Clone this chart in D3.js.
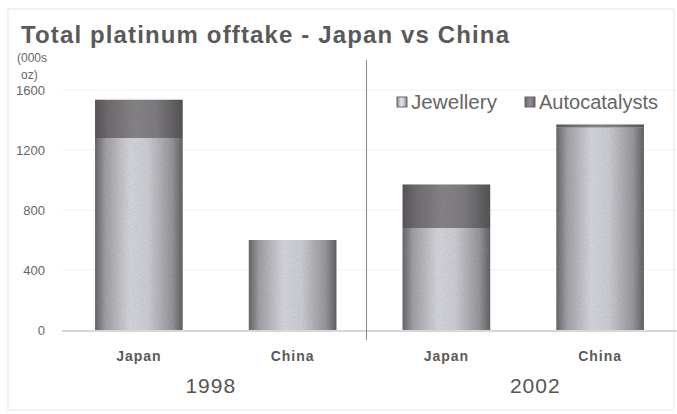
<!DOCTYPE html>
<html>
<head>
<meta charset="utf-8">
<script src="https://cdn.jsdelivr.net/npm/d3@7"></script>
<style>
  body { margin: 0; background: #fff; }
  text { font-family: "Liberation Sans", Arial, sans-serif; }
</style>
</head>
<body>
<script>
// data (000s oz)
var years = ["1998", "2002"];
var countries = ["Japan", "China"];
var jewellery = [[1280, 600], [680, 1350]];      // per year: Japan, China
var autocatalysts = [[255, 0], [290, 20]];
var series = ["Jewellery", "Autocatalysts"];
var yTicks = [0, 400, 800, 1200, 1600];

var w = 677, h = 414;
var svg = d3.select("body").append("svg")
    .attr("width", w)
    .attr("height", h);

// frame
svg.append("rect")
    .attr("x", 8).attr("y", 9)
    .attr("width", 666).attr("height", 401)
    .attr("fill", "none")
    .attr("stroke", "#e6e6e6");

var defs = svg.append("defs");
function cyl(id, stops) {
    var g = defs.append("linearGradient").attr("id", id)
        .attr("x1", "0%").attr("x2", "100%").attr("y1", "0%").attr("y2", "0%");
    stops.forEach(function(s) {
        g.append("stop").attr("offset", s[0]).attr("stop-color", s[1]);
    });
}
cyl("jew", [["0%", "#6f6b70"], ["12%", "#a9a7ad"], ["40%", "#dedfe6"], ["60%", "#d5d6dd"], ["88%", "#9e9ca2"], ["100%", "#6a666b"]]);
cyl("auto", [["0%", "#5e5a5e"], ["15%", "#767276"], ["45%", "#8e8a8e"], ["70%", "#848286"], ["100%", "#5c585c"]]);

// grainy texture, like the scan
var f = defs.append("filter").attr("id", "grain");
f.append("feTurbulence").attr("type", "fractalNoise").attr("baseFrequency", 0.9)
    .attr("numOctaves", 2).attr("result", "n");
f.append("feColorMatrix").attr("in", "n").attr("type", "matrix")
    .attr("values", "0 0 0 0 0  0 0 0 0 0  0 0 0 0 0  0 0 0 0.3 0").attr("result", "a");
f.append("feComposite").attr("in", "a").attr("in2", "SourceGraphic").attr("operator", "in").attr("result", "b");
f.append("feMerge").selectAll("feMergeNode").data(["SourceGraphic", "b"]).enter()
    .append("feMergeNode").attr("in", function(d) { return d; });

var y = d3.scaleLinear().domain([0, 1600]).range([330, 90]);
var x0 = d3.scaleBand().domain(years).range([62, 677]);
var x1 = d3.scaleBand().domain(countries).range([0, x0.bandwidth()])
    .paddingInner(0.43).paddingOuter(0.215);

// title
svg.append("text")
    .attr("x", 21).attr("y", 43)
    .attr("font-size", 24).attr("font-weight", "bold")
    .attr("fill", "#5a5a5a")
    .attr("textLength", 488).attr("lengthAdjust", "spacing")
    .text("Total platinum offtake - Japan vs China");

// unit label
svg.append("text").attr("x", 17).attr("y", 62)
    .attr("font-size", 12).attr("fill", "#666").text("(000s");
svg.append("text").attr("x", 21).attr("y", 79)
    .attr("font-size", 12).attr("fill", "#666").text("oz)");

// gridlines + y axis
svg.append("g").selectAll("line")
    .data(yTicks.slice(1))
    .enter().append("line")
    .attr("x1", 62).attr("x2", 677)
    .attr("y1", function(d) { return y(d); })
    .attr("y2", function(d) { return y(d); })
    .attr("stroke", "#f0f0f0");

var yAxis = svg.append("g")
    .attr("transform", "translate(53,0)")
    .call(d3.axisLeft(y).tickValues(yTicks).tickFormat(d3.format("d")).tickSize(0).tickPadding(8));
yAxis.select(".domain").remove();
yAxis.selectAll("text").attr("font-size", 13).attr("fill", "#666")
    .attr("font-family", "Liberation Sans, Arial, sans-serif");

// baseline
svg.append("line")
    .attr("x1", 62).attr("x2", 677)
    .attr("y1", y(0) + 1).attr("y2", y(0) + 1)
    .attr("stroke", "#b0b0b0");

// divider between years
svg.append("line")
    .attr("x1", x0("2002") - 3).attr("x2", x0("2002") - 3)
    .attr("y1", 60).attr("y2", 340)
    .attr("stroke", "#888");

// bars
years.forEach(function(yr, yi) {
    var g = svg.append("g").attr("transform", "translate(" + x0(yr) + ",0)");
    countries.forEach(function(c, ci) {
        var j = jewellery[yi][ci], a = autocatalysts[yi][ci];
        var bx = x1(c), bw = x1.bandwidth();
        g.append("rect")
            .attr("x", bx).attr("width", bw)
            .attr("y", y(j)).attr("height", y(0) - y(j))
            .attr("fill", "url(#jew)")
            .attr("filter", "url(#grain)");
        if (a > 0) {
            g.append("rect")
                .attr("x", bx).attr("width", bw)
                .attr("y", y(j + a)).attr("height", y(j) - y(j + a))
                .attr("fill", "url(#auto)")
                .attr("filter", "url(#grain)");
        }
        g.append("text")
            .attr("x", bx + bw / 2).attr("y", 361)
            .attr("text-anchor", "middle")
            .attr("font-size", 14).attr("font-weight", "bold")
            .attr("letter-spacing", 1)
            .attr("fill", "#5a5a5a")
            .text(c);
    });
    // year label sits a bit left of centre in the first group, right in the second
    g.append("text")
        .attr("x", x0.bandwidth() / 2 + (yi == 0 ? -5 : 12)).attr("y", 393)
        .attr("text-anchor", "middle")
        .attr("font-size", 21).attr("letter-spacing", 1)
        .attr("fill", "#555")
        .text(yr);
});

// legend
var leg = svg.append("g").attr("transform", "translate(397,97)");
var legX = [0, 128];
var legLen = [86, 119];
series.forEach(function(s, i) {
    leg.append("rect")
        .attr("x", legX[i]).attr("y", 0)
        .attr("width", 10).attr("height", 10)
        .attr("fill", i == 0 ? "url(#jew)" : "url(#auto)")
        .attr("stroke", "#666");
    leg.append("text")
        .attr("x", legX[i] + 14).attr("y", 12)
        .attr("font-size", 20).attr("fill", "#666")
        .attr("textLength", legLen[i]).attr("lengthAdjust", "spacingAndGlyphs")
        .text(s);
});
</script>
</body>
</html>
